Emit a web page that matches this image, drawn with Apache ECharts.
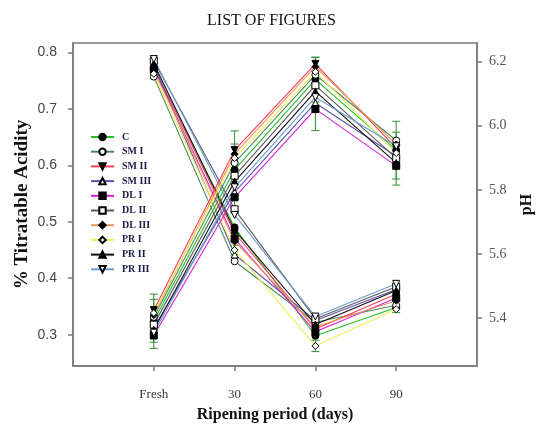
<!DOCTYPE html>
<html><head><meta charset="utf-8">
<script src="https://cdn.jsdelivr.net/npm/echarts@6/dist/echarts.min.js"></script>
<style>html,body{margin:0;padding:0;background:#fff}#c{width:543px;height:428px}</style>
</head><body><div id="c"></div>
<script>
const categories = ['Fresh', '30', '60', '90'];
const treatments = ['C', 'SM I', 'SM II', 'SM III', 'DL I', 'DL II', 'DL III', 'PR I', 'PR II', 'PR III'];
const acidityTicks = [0.3, 0.4, 0.5, 0.6, 0.7, 0.8];
const phTicks = [5.4, 5.6, 5.8, 6.0, 6.2];

// % titratable acidity (left axis)
const acidC   = [0.772, 0.490, 0.298, 0.348];
const acidSM1 = [0.757, 0.430, 0.322, 0.352];
const acidSM2 = [0.775, 0.480, 0.310, 0.372];
const acidSM3 = [0.778, 0.442, 0.325, 0.380];
const acidDL1 = [0.770, 0.470, 0.305, 0.365];
const acidDL2 = [0.785, 0.522, 0.328, 0.385];
const acidDL3 = [0.768, 0.465, 0.314, 0.360];
const acidPR1 = [0.762, 0.450, 0.280, 0.345];
const acidPR2 = [0.780, 0.485, 0.318, 0.378];
const acidPR3 = [0.788, 0.512, 0.332, 0.390];

// pH (right axis)
const phC   = [5.392, 5.863, 6.144, 5.924];
const phSM1 = [5.404, 5.884, 6.159, 5.954];
const phSM2 = [5.425, 5.924, 6.193, 5.930];
const phSM3 = [5.370, 5.793, 6.071, 5.905];
const phDL1 = [5.346, 5.777, 6.052, 5.875];
const phDL2 = [5.380, 5.844, 6.126, 5.899];
const phDL3 = [5.410, 5.912, 6.184, 5.942];
const phPR1 = [5.416, 5.899, 6.168, 5.915];
const phPR2 = [5.364, 5.826, 6.107, 5.884];
const phPR3 = [5.355, 5.808, 6.089, 5.936];

// error bars (± values)
const phErrC   = [0.067, 0.080, 0.070, 0.090];
const phErrSM2 = [0.050, 0.060, 0.020, 0.050];
const phErrDL1 = [0.040, 0.050, 0.067, 0.060];
const acidErrPR1 = [0.008, 0.008, 0.010, 0.006];

const acidSets = [acidC, acidSM1, acidSM2, acidSM3, acidDL1, acidDL2, acidDL3, acidPR1, acidPR2, acidPR3];
const phSets = [phC, phSM1, phSM2, phSM3, phDL1, phDL2, phDL3, phPR1, phPR2, phPR3];

const lineColors = ['#22c022', '#4a8a5e', '#ff3d5a', '#5a56a8', '#d622d6', '#5a5a5a', '#e6985a', '#eeee5a', '#111111', '#6b9bd0'];
const TRI_DOWN = 'path://M0,0 L10,0 L5,9 Z';
const DIAMOND = 'path://M5,0 L10,5 L5,10 L0,5 Z';
const symbols = ['circle', 'circle', TRI_DOWN, 'triangle', 'rect', 'rect', DIAMOND, DIAMOND, 'triangle', TRI_DOWN];
const fills = ['#000', '#fff', '#000', '#fff', '#000', '#fff', '#000', '#fff', '#000', '#fff'];

function lineSeries(i, values, yIdx) {
  return {
    type: 'line', name: treatments[i], yAxisIndex: yIdx,
    data: categories.map((c, k) => [k + 1, values[k]]),
    symbol: symbols[i], symbolSize: 7, z: 3,
    lineStyle: { color: lineColors[i], width: 1.1 },
    itemStyle: { color: fills[i], borderColor: '#000', borderWidth: 1 },
    emphasis: { disabled: true }, animation: false
  };
}
function errSeries(yIdx, center, err) {
  return {
    type: 'custom', yAxisIndex: yIdx, silent: true, z: 2, animation: false,
    renderItem(params, api) {
      const x = api.value(0), lo = api.value(1), hi = api.value(2);
      const p1 = api.coord([x, lo]), p2 = api.coord([x, hi]);
      const st = { stroke: '#2f8f2f', lineWidth: 1 };
      return { type: 'group', children: [
        { type: 'line', shape: { x1: p1[0], y1: p1[1], x2: p2[0], y2: p2[1] }, style: st },
        { type: 'line', shape: { x1: p1[0] - 4, y1: p1[1], x2: p1[0] + 4, y2: p1[1] }, style: st },
        { type: 'line', shape: { x1: p2[0] - 4, y1: p2[1], x2: p2[0] + 4, y2: p2[1] }, style: st }
      ] };
    },
    data: categories.map((c, k) => [k + 1, center[k] - err[k], center[k] + err[k]])
  };
}

const series = [];
series.push(errSeries(1, phC, phErrC));
series.push(errSeries(1, phSM2, phErrSM2));
series.push(errSeries(1, phDL1, phErrDL1));
series.push(errSeries(0, acidPR1, acidErrPR1));
acidSets.forEach((v, i) => series.push(lineSeries(i, v, 0)));
phSets.forEach((v, i) => series.push(lineSeries(i, v, 1)));

const axisLineStyle = { color: '#7a7a7a', width: 1.5 };
const chart = echarts.init(document.getElementById('c'), null, { renderer: 'canvas' });
chart.setOption({
  animation: false,
  title: { text: 'LIST OF FIGURES', left: 'center', top: 8,
    textStyle: { fontFamily: 'Liberation Serif', fontWeight: 'normal', fontSize: 16, color: '#111' } },
  grid: { left: 73, right: 61, top: 43, bottom: 56, containLabel: false, show: true,
    borderColor: '#7a7a7a', borderWidth: 1.5, backgroundColor: 'transparent' },
  legend: {
    data: treatments, orient: 'vertical', left: 90, top: 132, padding: 0,
    itemWidth: 23, itemHeight: 8, itemGap: 4.7,
    textStyle: { fontFamily: 'Liberation Serif', fontWeight: 'bold', fontSize: 10, color: '#1c1c48', padding: [0, 0, 0, 3] },
    selectedMode: false
  },
  xAxis: {
    type: 'value', min: 0, max: 5, interval: 1,
    name: 'Ripening period (days)', nameLocation: 'middle', nameGap: 41,
    nameTextStyle: { fontFamily: 'Liberation Serif', fontWeight: 'bold', fontSize: 16, color: '#111' },
    axisLine: { show: true, lineStyle: axisLineStyle },
    axisTick: { show: true, length: 5, lineStyle: axisLineStyle, customValues: [1, 2, 3, 4] },
    axisLabel: { customValues: [1, 2, 3, 4], margin: 22, formatter: v => categories[Math.round(v) - 1] || '',
      fontFamily: 'Liberation Serif', fontSize: 13, color: '#333' },
    splitLine: { show: false }
  },
  yAxis: [
    {
      type: 'value', min: 0.2445, max: 0.8165, position: 'left',
      name: '% Titratable Acidity', nameLocation: 'middle', nameGap: 41, nameRotate: 90, nameMoveOverlap: false,
      nameTextStyle: { fontFamily: 'Liberation Serif', fontWeight: 'bold', fontSize: 19, color: '#111' },
      axisLine: { show: true, lineStyle: axisLineStyle },
      axisTick: { show: true, length: 5, lineStyle: axisLineStyle, customValues: acidityTicks },
      axisLabel: { customValues: acidityTicks, margin: 16, formatter: v => v.toFixed(1),
        fontFamily: 'Liberation Sans', fontSize: 14, color: '#444' },
      splitLine: { show: false }
    },
    {
      type: 'value', min: 5.251, max: 6.258, position: 'right',
      name: 'pH', nameLocation: 'middle', nameGap: 42, nameRotate: 90,
      nameTextStyle: { fontFamily: 'Liberation Serif', fontWeight: 'bold', fontSize: 16, color: '#111' },
      axisLine: { show: true, lineStyle: axisLineStyle },
      axisTick: { show: true, length: 5, lineStyle: axisLineStyle, customValues: phTicks },
      axisLabel: { customValues: phTicks, margin: 12, formatter: v => v.toFixed(1),
        fontFamily: 'Liberation Serif', fontSize: 14, color: '#555' },
      splitLine: { show: false }
    }
  ],
  series: series
});
</script>
</body></html>
